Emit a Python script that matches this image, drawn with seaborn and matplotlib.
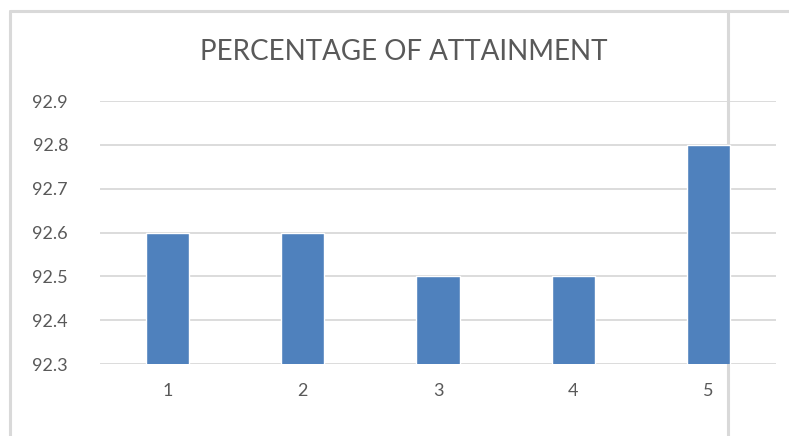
import matplotlib
matplotlib.use("Agg")
import matplotlib.pyplot as plt
from matplotlib.lines import Line2D
import seaborn as sns
import pandas as pd

# chart data
categories = ["1", "2", "3", "4", "5"]
attainment = [92.6, 92.6, 92.5, 92.5, 92.8]
y_ticks = [92.3, 92.4, 92.5, 92.6, 92.7, 92.8, 92.9]

sns.set_style("white")
plt.rcParams['font.family'] = ['Lato', 'DejaVu Sans']

df = pd.DataFrame({"category": categories, "value": attainment})

fig = plt.figure(figsize=(7.89, 4.36), dpi=100)
ax = fig.add_axes([100 / 789, 1 - 364 / 436, 676 / 789, 263 / 436])
ax.patch.set_alpha(0)

sns.barplot(data=df, x="category", y="value", color="#4F81BD",
            saturation=1, width=0.32, ax=ax, zorder=3)

ax.set_ylim(92.3, 92.9)
ax.set_yticks(y_ticks)
ax.set_yticklabels([f"{t:.1f}" for t in y_ticks])
ax.grid(axis="y", color="#D9D9D9", linewidth=1.3, zorder=0)
ax.set_axisbelow(True)
for s in ax.spines.values():
    s.set_visible(False)
ax.tick_params(axis="both", length=0, labelsize=13, colors="#595959")
ax.tick_params(axis="y", pad=23)
ax.tick_params(axis="x", pad=14)
ax.set_xlabel("")
ax.set_ylabel("")

fig.text(404 / 789, 1 - 52 / 436, "PERCENTAGE OF ATTAINMENT",
         ha="center", va="center", fontsize=20, color="#595959")

# chart frame and stray divider, drawn behind the axes
frame = "#D9D9D9"
for xs, ys in [([10 / 789, 10 / 789], [0, 1 - 11 / 436]),
               ([10 / 789, 1], [1 - 11 / 436, 1 - 11 / 436]),
               ([728 / 789, 728 / 789], [0, 1 - 11 / 436])]:
    fig.add_artist(Line2D(xs, ys, transform=fig.transFigure,
                          color=frame, lw=2.2, zorder=-1))

fig.savefig("out.png", dpi=100)
